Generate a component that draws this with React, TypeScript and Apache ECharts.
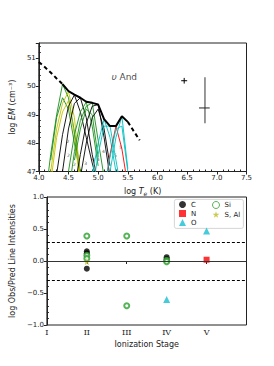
import React, { useEffect, useRef } from "react";
import * as echarts from "echarts";

// ---------- Top panel data (log T, log EM) ----------
const envelopeDashLeft = [[4.0, 50.86], [4.1, 50.68], [4.2, 50.49], [4.3, 50.28], [4.4, 50.08]];
const envelopeSolid = [[4.4, 50.08], [4.5, 49.83], [4.6, 49.71], [4.7, 49.6], [4.8, 49.46], [4.9, 49.42], [5.0, 49.36], [5.1, 48.85], [5.2, 48.6], [5.3, 48.6], [5.4, 48.95], [5.5, 48.75]];
const envelopeDashRight = [[5.5, 48.75], [5.6, 48.42], [5.7, 48.1]];

const curveG1 = [[4.1, 45.9], [4.2, 47.6], [4.3, 49.0], [4.4, 50.08], [4.5, 49.6], [4.6, 48.4], [4.7, 47.0]];
const curveG2 = [[4.2, 47.4], [4.3, 48.9], [4.4, 49.6], [4.5, 49.2], [4.6, 48.0], [4.7, 46.9]];
const curveY1 = [[4.2, 47.0], [4.3, 48.5], [4.4, 49.4], [4.5, 49.82], [4.6, 48.9], [4.7, 46.8]];
const curveY2 = [[4.2, 46.6], [4.3, 48.2], [4.4, 49.1], [4.5, 49.5], [4.6, 48.3], [4.7, 46.5]];
const curveK1 = [[4.3, 46.9], [4.4, 48.3], [4.5, 49.3], [4.6, 49.7], [4.7, 49.1], [4.8, 48.2], [4.9, 47.3], [5.0, 46.5]];
const curveK2 = [[4.4, 47.0], [4.5, 48.5], [4.6, 49.4], [4.7, 49.6], [4.8, 48.9], [4.9, 47.6], [5.0, 46.6]];
const curveG3 = [[4.5, 47.0], [4.6, 48.3], [4.7, 49.1], [4.8, 49.45], [4.9, 48.6], [5.0, 47.2]];
const curveG4 = [[4.5, 46.2], [4.6, 47.7], [4.7, 48.8], [4.8, 49.3], [4.9, 49.42], [5.0, 48.1], [5.1, 46.8]];
const curveG5 = [[4.6, 47.4], [4.7, 48.5], [4.8, 49.2], [4.9, 49.0], [5.0, 47.5]];
const curveK3 = [[4.6, 46.4], [4.7, 47.6], [4.8, 48.7], [4.9, 49.3], [5.0, 49.36], [5.1, 48.2], [5.2, 46.8]];
const curveK4 = [[4.7, 46.8], [4.8, 48.0], [4.9, 48.9], [5.0, 49.2], [5.1, 48.5], [5.2, 47.2]];
const curveC1 = [[4.9, 46.9], [5.0, 48.0], [5.1, 48.85], [5.2, 48.2], [5.3, 47.0]];
const curveC2 = [[4.9, 46.3], [5.0, 47.6], [5.1, 48.6], [5.2, 48.6], [5.3, 47.4], [5.4, 46.2]];
const curveR1 = [[5.1, 46.2], [5.2, 47.6], [5.3, 48.6], [5.4, 47.8], [5.5, 46.5]];
const curveC3 = [[5.2, 47.0], [5.3, 48.2], [5.4, 48.95], [5.5, 47.1]];
const curveC4 = [[5.1, 46.4], [5.2, 47.5], [5.3, 48.5], [5.4, 48.6], [5.5, 47.0]];

const ionLabels = [
  [4.49, 48.06, "2"], [4.5, 47.56, "2"], [4.6, 47.24, "2"], [4.79, 47.28, "3"],
  [4.92, 47.42, "4"], [5.0, 47.42, "4"], [5.09, 47.69, "4"], [5.29, 47.56, "5"], [5.38, 47.83, "5"],
];

const smallErrX = [[6.4, 50.2], [6.5, 50.2]];
const smallErrY = [[6.45, 50.1], [6.45, 50.3]];
const bigErrX = [[6.7, 49.24], [6.88, 49.24]];
const bigErrY = [[6.8, 48.7], [6.8, 50.32]];
const starLabel = [[5.44, 50.32, "υ And"]];

const topXTicks = [4.0, 7.5, 0.5];
const topYTicks = [47, 51.53, 1];

// ---------- Bottom panel data (ionization stage, log Obs/Pred) ----------
const stageNames = ["I", "II", "III", "IV", "V"];
const pointsC = [[2, 0.15], [2, 0.12], [2, -0.12], [4, 0.06], [4, 0.03]];
const pointsN = [[5, 0.02]];
const pointsO = [[4, -0.6], [5, 0.47]];
const pointsSi = [[2, 0.39], [2, 0.09], [2, 0.04], [3, 0.39], [3, -0.7], [4, 0.01], [4, -0.01]];
const pointsSAl = [[2, -0.01]];
const limitLines = [0.3, -0.3];
const zeroLine = [0];

const GREEN = "#1a8c1a";
const YELLOW = "#c2c200";
const CYAN = "#00bfbf";
const RED = "#ff0000";

const thinCurves: [number[][], string][] = [
  [curveG1, GREEN], [curveG2, GREEN], [curveY1, YELLOW], [curveY2, YELLOW],
  [curveK1, "#000"], [curveK2, "#000"], [curveG3, GREEN], [curveG4, GREEN], [curveG5, GREEN],
  [curveK3, "#000"], [curveK4, "#000"], [curveC1, CYAN], [curveC2, CYAN], [curveR1, RED],
  [curveC3, CYAN], [curveC4, CYAN],
];

const STAR = "path://M50,0 L61,35 L98,35 L68,57 L79,91 L50,70 L21,91 L32,57 L2,35 L39,35 Z";
const SANS = "DejaVu Sans";

export default function App() {
  const ref = useRef<HTMLDivElement>(null);
  useEffect(() => {
    if (!ref.current) return;
    const chart = echarts.init(ref.current, null, { renderer: "svg" });
    const tickLabel = { fontSize: 7, color: "#222", fontFamily: SANS };
    const nameStyle = { fontSize: 8, color: "#222", fontFamily: SANS };
    const seg = (data: number[][], color: string, width: number, extra: any = {}) => ({
      type: "line", data, xAxisIndex: 0, yAxisIndex: 0, symbol: "none", silent: true,
      lineStyle: { color, width, ...extra }, clip: true,
    });
    const series: any[] = [];
    thinCurves.forEach(([d, c]) => series.push(seg(d, c, 0.9)));
    series.push(seg(envelopeDashLeft, "#000", 2, { type: [4, 3] }));
    series.push(seg(envelopeSolid, "#000", 2));
    series.push(seg(envelopeDashRight, "#000", 2, { type: [4, 3] }));
    series.push(seg(smallErrX, "#000", 1));
    series.push(seg(smallErrY, "#000", 1));
    series.push(seg(bigErrY, "#777", 1.5));
    series.push(seg(bigErrX, "#222", 1));
    series.push({
      type: "scatter", xAxisIndex: 0, yAxisIndex: 0, data: ionLabels, symbolSize: 0, silent: true,
      label: { show: true, position: "inside", formatter: (p: any) => p.value[2], fontSize: 4.5, color: "#222", fontFamily: SANS },
    });
    series.push({
      type: "scatter", xAxisIndex: 0, yAxisIndex: 0, data: starLabel, symbolSize: 0, silent: true,
      label: {
        show: true, position: "inside", formatter: () => "{i|υ} And", fontSize: 9, color: "#111", fontFamily: SANS,
        rich: { i: { fontStyle: "italic", fontSize: 9, fontFamily: SANS, color: "#111" } },
      },
    });
    // bottom panel
    const bot = { xAxisIndex: 2, yAxisIndex: 2 };
    series.push({
      type: "scatter", name: "C", ...bot, data: pointsC, symbol: "circle", symbolSize: 6,
      itemStyle: { color: "#000" },
      markLine: {
        silent: true, symbol: "none", label: { show: false },
        data: [
          ...limitLines.map((v) => ({ yAxis: v, lineStyle: { color: "#000", type: [3, 2], width: 1 } })),
          ...zeroLine.map((v) => ({ yAxis: v, lineStyle: { color: "#333", type: "solid", width: 1 } })),
        ],
      },
    });
    series.push({ type: "scatter", name: "N", ...bot, data: pointsN, symbol: "rect", symbolSize: 6, itemStyle: { color: RED } });
    series.push({ type: "scatter", name: "O", ...bot, data: pointsO, symbol: "triangle", symbolSize: 7, itemStyle: { color: "#17becf" } });
    series.push({
      type: "scatter", name: "Si", ...bot, data: pointsSi, symbol: "emptyCircle", symbolSize: 5,
      itemStyle: { color: "#2ca02c", borderColor: "#2ca02c", borderWidth: 1 },
    });
    series.push({ type: "scatter", name: "S, Al", ...bot, data: pointsSAl, symbol: STAR, symbolSize: 7, itemStyle: { color: "#bcbd22" } });

    const legendCommon = {
      orient: "vertical", itemWidth: 7, itemHeight: 7, itemGap: 2, top: 201,
      textStyle: { fontSize: 7, color: "#222", fontFamily: SANS }, selectedMode: false, padding: 0,
    };

    chart.setOption({
      animation: false,
      grid: [
        { left: 34, top: 43, width: 212.5, height: 128.5, show: true, borderColor: "#222", borderWidth: 1 },
        { left: 34, top: 197, width: 212.5, height: 128, show: true, borderColor: "#222", borderWidth: 1 },
      ],
      legend: [
        { ...legendCommon, left: 179, data: ["C", "N", "O"] },
        {
          ...legendCommon, left: 212,
          data: [
            { name: "Si", icon: "circle", itemStyle: { color: "#ffffff", borderColor: "#2ca02c", borderWidth: 1 } },
            "S, Al",
          ],
        },
      ],
      graphic: [
        { type: "rect", left: 174, top: 199, shape: { width: 69, height: 29, r: 2 }, style: { fill: "#fff", stroke: "#ccc", lineWidth: 0.8 }, z: 0 },
      ],
      xAxis: [
        {
          gridIndex: 0, type: "value", min: topXTicks[0], max: topXTicks[1], interval: topXTicks[2],
          axisLine: { show: true, lineStyle: { color: "#222" } }, splitLine: { show: false },
          axisTick: { show: true, length: 3, lineStyle: { color: "#222" } },
          axisLabel: { ...tickLabel, margin: 3, formatter: (v: number) => v.toFixed(1) },
          name: "{n|log }{i|T}{s|e}{n| (K)}", nameLocation: "middle", nameGap: 14,
          nameTextStyle: {
            ...nameStyle,
            rich: {
              n: { ...nameStyle, lineHeight: 11 },
              i: { ...nameStyle, fontStyle: "italic", lineHeight: 11 },
              s: { ...nameStyle, fontSize: 6, fontStyle: "italic", lineHeight: 11, verticalAlign: "bottom", padding: [4, 0, 0, 0] },
            },
          },
        },
        {
          gridIndex: 0, type: "value", min: topXTicks[0], max: topXTicks[1], interval: topXTicks[2], position: "bottom",
          axisLine: { show: false }, splitLine: { show: false }, axisLabel: { show: false },
          axisTick: { show: false, inside: true },
          minorTick: { show: true, splitNumber: 5, length: 2, lineStyle: { color: "#222" } },
        },
        {
          gridIndex: 1, type: "value", min: 1, max: 6, interval: 1,
          axisLine: { show: true, lineStyle: { color: "#222" } }, splitLine: { show: false },
          axisTick: { show: true, length: 3, lineStyle: { color: "#222" } },
          axisLabel: {
            fontSize: 8, color: "#222", fontFamily: "DejaVu Serif", margin: 3,
            formatter: (v: number) => stageNames[v - 1] ?? "",
          },
          name: "Ionization Stage", nameLocation: "middle", nameGap: 15, nameTextStyle: nameStyle,
        },
      ],
      yAxis: [
        {
          gridIndex: 0, type: "value", min: topYTicks[0], max: topYTicks[1], interval: topYTicks[2],
          axisLine: { show: true, lineStyle: { color: "#222" } }, splitLine: { show: false },
          axisTick: { show: true, length: 3, lineStyle: { color: "#222" } },
          axisLabel: { ...tickLabel, margin: 3, formatter: (v: number) => (Number.isInteger(v) ? String(v) : "") },
          name: "{n|log }{i|EM}{n| (cm⁻³)}", nameLocation: "middle", nameGap: 17,
          nameTextStyle: {
            ...nameStyle,
            rich: { n: { ...nameStyle }, i: { ...nameStyle, fontStyle: "italic" } },
          },
        },
        {
          gridIndex: 0, type: "value", min: topYTicks[0], max: topYTicks[1], interval: topYTicks[2], position: "left",
          axisLine: { show: false }, splitLine: { show: false }, axisLabel: { show: false },
          axisTick: { show: false, inside: true },
          minorTick: { show: true, splitNumber: 5, length: 2, lineStyle: { color: "#222" } },
        },
        {
          gridIndex: 1, type: "value", min: -1, max: 1, interval: 0.5,
          axisLine: { show: true, lineStyle: { color: "#222" } }, splitLine: { show: false },
          axisTick: { show: true, length: 3, lineStyle: { color: "#222" } },
          axisLabel: { ...tickLabel, margin: 3, formatter: (v: number) => v.toFixed(1).replace("-", "−") },
          name: "log Obs/Pred Line Intensities", nameLocation: "middle", nameGap: 21, nameTextStyle: nameStyle,
        },
        {
          gridIndex: 1, type: "value", min: -1, max: 1, interval: 0.5, position: "left",
          axisLine: { show: false }, splitLine: { show: false }, axisLabel: { show: false },
          axisTick: { show: false, inside: true },
          minorTick: { show: true, splitNumber: 5, length: 2, lineStyle: { color: "#222" } },
        },
      ],
      series,
    });
    return () => chart.dispose();
  }, []);
  return <div ref={ref} style={{ width: 274, height: 366, position: "absolute", left: 0, top: 0 }} />;
}
